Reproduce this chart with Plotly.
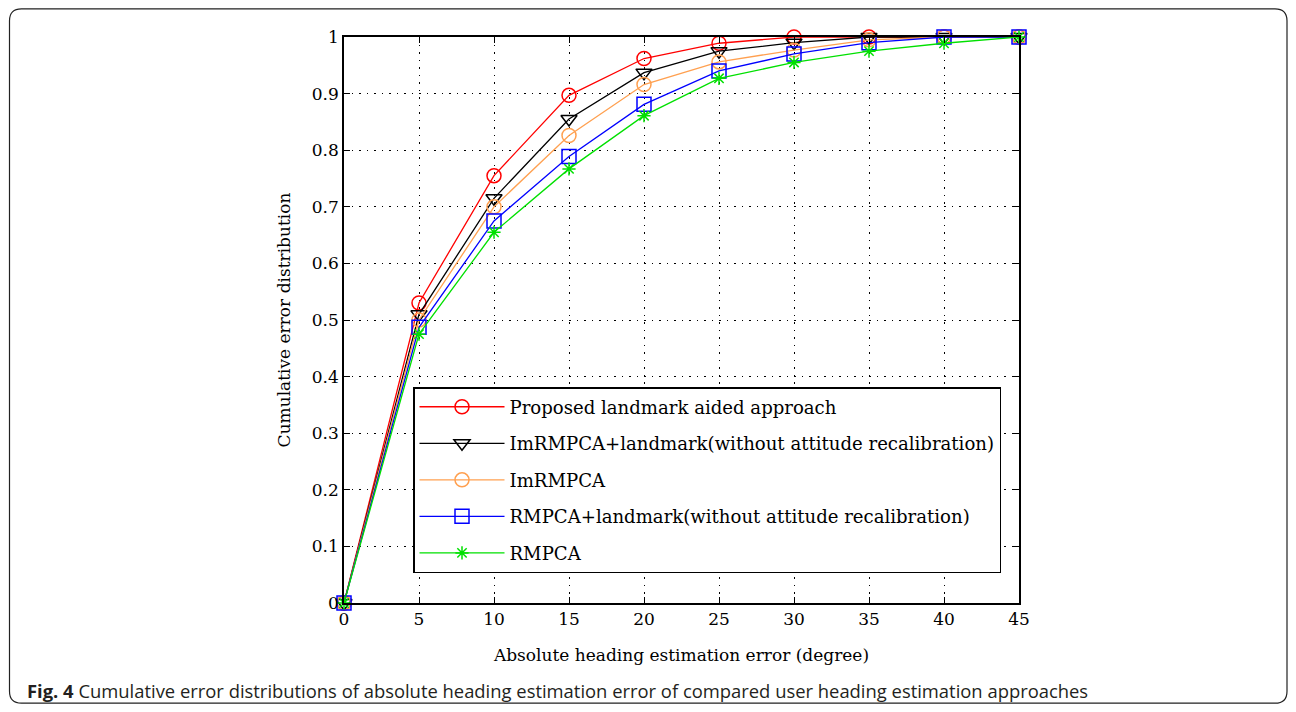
import plotly.graph_objects as go

x_err = [0, 5, 10, 15, 20, 25, 30, 35, 40, 45]
proposed = [0, 0.53, 0.755, 0.897, 0.962, 0.989, 1.0, 1.0, 1.0, 1.0]
imrmpca_lm = [0, 0.51, 0.715, 0.855, 0.937, 0.975, 0.99, 1.0, 1.0, 1.0]
imrmpca = [0, 0.50, 0.70, 0.826, 0.916, 0.956, 0.977, 0.995, 1.0, 1.0]
rmpca_lm = [0, 0.487, 0.675, 0.789, 0.881, 0.94, 0.97, 0.99, 1.0, 1.0]
rmpca = [0, 0.475, 0.655, 0.767, 0.861, 0.927, 0.955, 0.975, 0.989, 1.0]

names = ["Proposed landmark aided approach",
         "ImRMPCA+landmark(without attitude recalibration)",
         "ImRMPCA",
         "RMPCA+landmark(without attitude recalibration)",
         "RMPCA"]
series = [proposed, imrmpca_lm, imrmpca, rmpca_lm, rmpca]
colors = ["#ff0000", "#000000", "#ffa050", "#0000ff", "#00e000"]
symbols = ["circle-open", "triangle-down-open", "circle-open", "square-open", "asterisk-open"]
sizes = [14, 14, 14, 14, 11]

serif = "DejaVu Serif, Liberation Serif, serif"

fig = go.Figure()
for i, (n, s) in enumerate(zip(names, series)):
    fig.add_trace(go.Scatter(
        x=x_err, y=s, name=n, mode="lines+markers",
        legendgroup="g%d" % i,
        line=dict(color=colors[i], width=1.3),
        marker=dict(symbol=symbols[i], size=sizes[i], color=colors[i],
                    line=dict(width=1.5, color=colors[i])),
        cliponaxis=False,
    ))

# figure sits at an 8px page margin inside the 1296x712 window
W, H = 1280, 696
L, R, T, B = 336, 1011, 29, 595
pw, ph = R - L, B - T

def px(X):
    return (X - L) / pw

def py(Y):
    return (B - Y) / ph

# rounded outer frame
x0, x1, y0, y1, r = 1.5, 1279.0, 0.8, 695.2, 12
pts = [
    f"M {px(x0 + r)} {py(y0)}",
    f"L {px(x1 - r)} {py(y0)}",
    f"Q {px(x1)} {py(y0)} {px(x1)} {py(y0 + r)}",
    f"L {px(x1)} {py(y1 - r)}",
    f"Q {px(x1)} {py(y1)} {px(x1 - r)} {py(y1)}",
    f"L {px(x0 + r)} {py(y1)}",
    f"Q {px(x0)} {py(y1)} {px(x0)} {py(y1 - r)}",
    f"L {px(x0)} {py(y0 + r)}",
    f"Q {px(x0)} {py(y0)} {px(x0 + r)} {py(y0)}",
    "Z",
]
fig.add_shape(type="path", path=" ".join(pts), xref="paper", yref="paper",
              line=dict(color="#222222", width=1.2), layer="below")

fig.add_annotation(
    text="<b>Fig. 4</b> Cumulative error distributions of absolute heading estimation error of compared user heading estimation approaches",
    xref="paper", yref="paper", x=px(17), y=py(682), xanchor="left", yanchor="middle",
    showarrow=False, font=dict(family="Open Sans, Noto Sans, sans-serif", size=18.4, color="#231f20"))

axis_common = dict(
    showline=True, linecolor="black", linewidth=1.6, mirror="allticks",
    ticks="inside", ticklen=6, tickcolor="black", tickwidth=1,
    showgrid=True, gridcolor="black", gridwidth=1.2, griddash="1.5px,6px",
    zeroline=False,
    tickfont=dict(family=serif, size=17, color="black"),
)

fig.update_layout(
    width=W, height=H,
    margin=dict(l=L, r=W - R, t=T, b=H - B),
    paper_bgcolor="white", plot_bgcolor="white",
    xaxis=dict(range=[0, 45], tickvals=x_err, title=dict(
        text="Absolute heading estimation error (degree)",
        font=dict(family=serif, size=17, color="black"), standoff=21), **axis_common),
    yaxis=dict(range=[0, 1], tickvals=[0, 0.1, 0.2, 0.3, 0.4, 0.5, 0.6, 0.7, 0.8, 0.9, 1],
               ticktext=["0", "0.1", "0.2", "0.3", "0.4", "0.5", "0.6", "0.7", "0.8", "0.9", "1"],
               title=dict(text="Cumulative error distribution",
                          font=dict(family=serif, size=17, color="black"), standoff=17),
               **axis_common),
    legend=dict(x=px(405), y=py(379), xanchor="left", yanchor="top",
                bgcolor="white", bordercolor="black", borderwidth=1.5,
                font=dict(family=serif, size=18.1, color="black"),
                traceorder="grouped", tracegroupgap=10, itemwidth=85),
    showlegend=True,
)

fig.write_html("out.html")
